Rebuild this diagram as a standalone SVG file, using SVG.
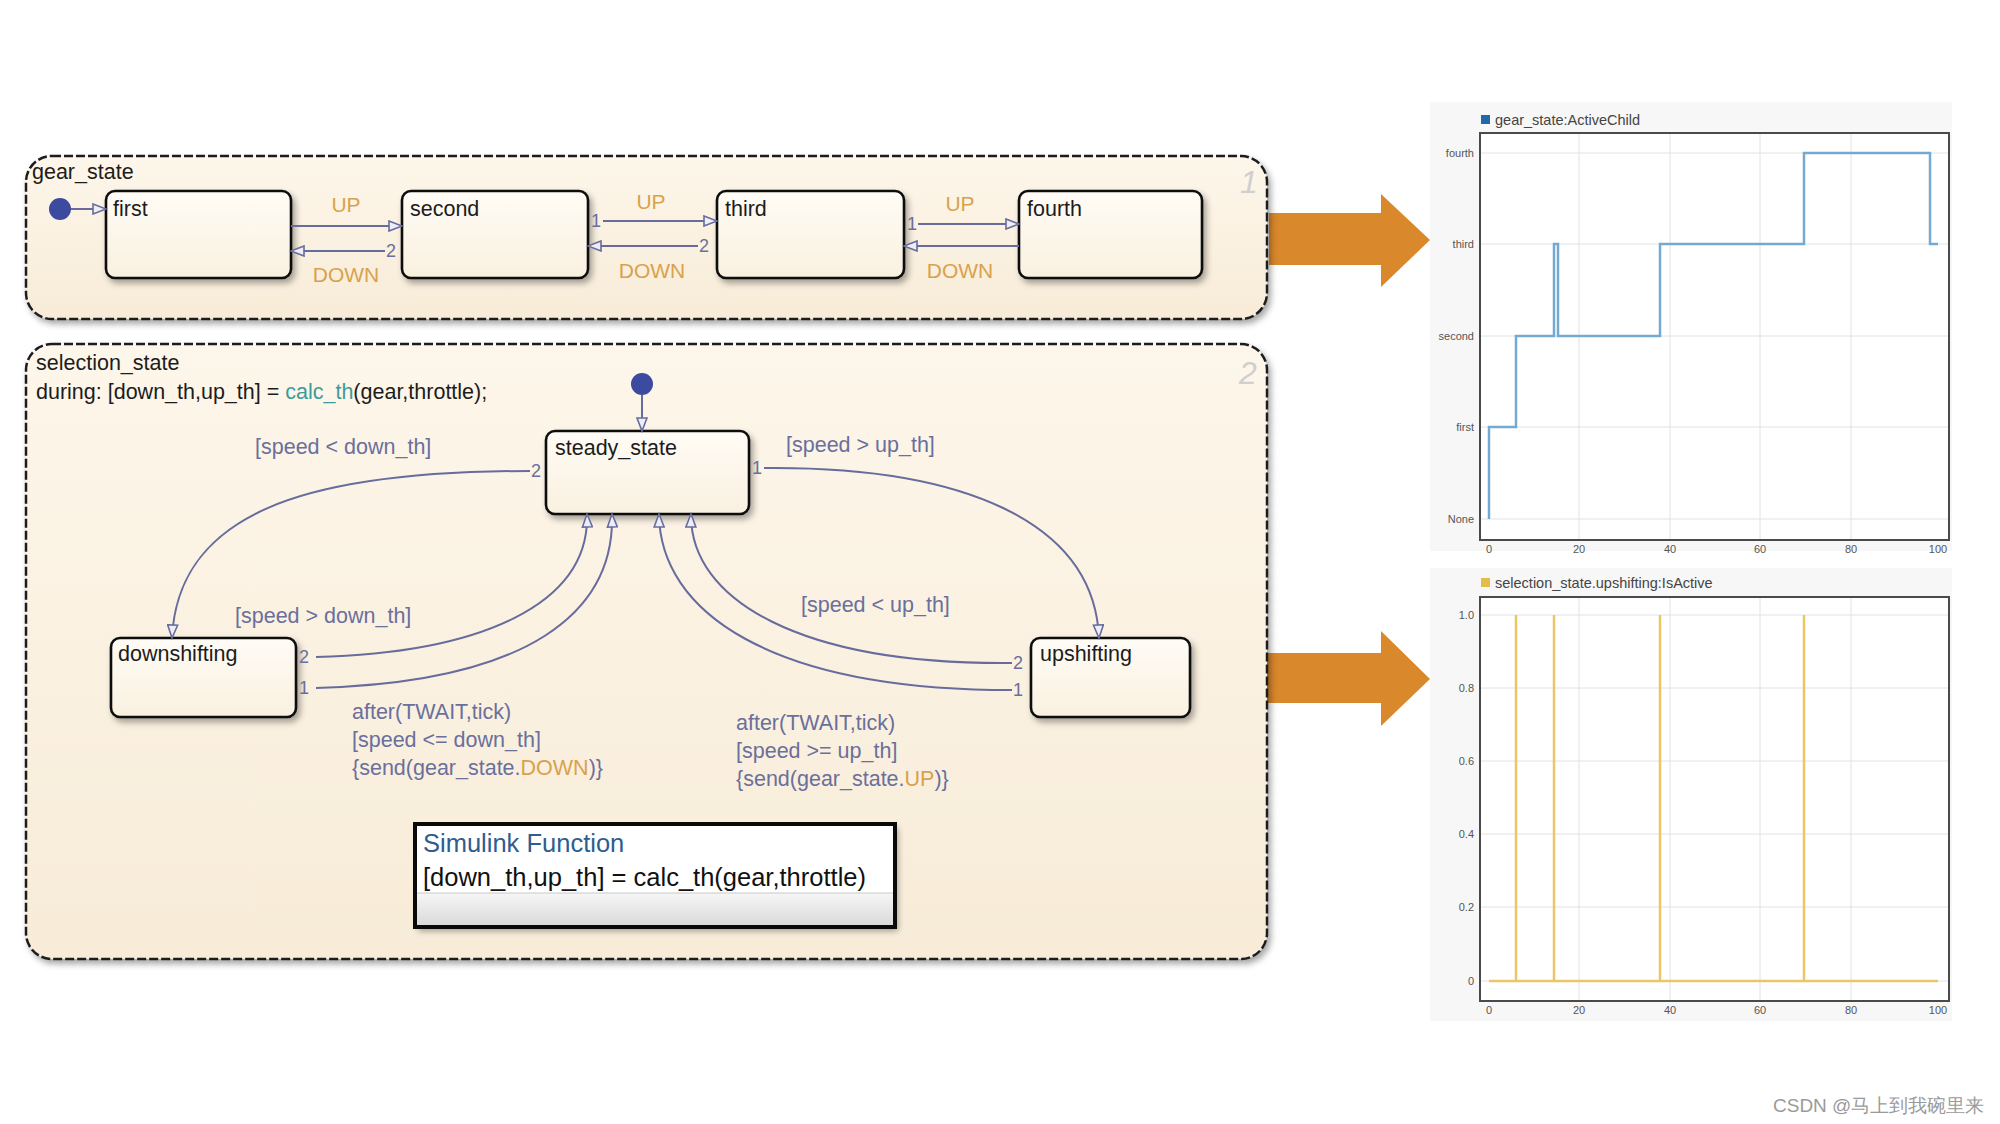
<svg xmlns="http://www.w3.org/2000/svg" width="2000" height="1124" viewBox="0 0 2000 1124">
<defs>
<style>
text{font-family:"Liberation Sans",Arial,sans-serif}
.chart{fill:url(#gChart);stroke:#1e1e1e;stroke-width:2.5;stroke-dasharray:9 3}
.st{fill:url(#gState);stroke:#111;stroke-width:2.6}
.sl{font-size:21.5px;fill:#1c1c1c}
.tr{fill:none;stroke:#676c9c;stroke-width:2}
.tra{fill:none;stroke:#676c9c;stroke-width:2;marker-end:url(#ah)}
.tl{font-size:21.5px;fill:#6a6f9c}
.num{font-size:18px;fill:#6a6f9c}
.ev{font-size:21px;fill:#d8a24c}
.corner{font-size:32px;fill:#cfcfcf;font-style:italic}
.dot{fill:#3c4aa0}
.grid{stroke:#e2e2e2;stroke-width:1}
.tick{font-size:11px;fill:#555}
.axes{fill:#fff;stroke:#4a4a4a;stroke-width:2}
.big{fill:#d9882b}
.leg{font-size:14.5px;fill:#444}
</style>
<linearGradient id="gChart" x1="0" y1="0" x2="0" y2="1">
<stop offset="0" stop-color="#fdf6ea"/>
<stop offset="1" stop-color="#f8ecd8"/>
</linearGradient>
<linearGradient id="gState" x1="0" y1="0" x2="0" y2="1">
<stop offset="0" stop-color="#fffcf6"/>
<stop offset="1" stop-color="#f9f0df"/>
</linearGradient>
<linearGradient id="gFoot" x1="0" y1="0" x2="0" y2="1">
<stop offset="0" stop-color="#f6f6f6"/>
<stop offset="1" stop-color="#dadada"/>
</linearGradient>
<filter id="sh" x="-10%" y="-10%" width="125%" height="130%">
<feDropShadow dx="3" dy="4" stdDeviation="3" flood-color="#000" flood-opacity="0.35"/>
</filter>
<marker id="ah" markerWidth="16" markerHeight="12" refX="14" refY="6" orient="auto" markerUnits="userSpaceOnUse">
<path d="M1,1 L14,6 L1,11 Z" fill="#eeeef8" stroke="#676c9c" stroke-width="1.6"/>
</marker>
</defs>
<rect width="2000" height="1124" fill="#ffffff"/>

<!-- big orange arrows -->
<g id="arrow-top">
<path class="big" d="M1269,213 H1381 V194 L1430,240 L1381,287 V265 H1269 Z"/>
</g>
<g id="arrow-bottom">
<path class="big" d="M1190,653 H1381 V631 L1430,679 L1381,726 V703 H1190 Z"/>
</g>

<!-- gear_state chart -->
<g id="gear_state">
<rect class="chart" x="26" y="156" width="1241" height="163" rx="26" filter="url(#sh)"/>
<text x="32" y="179" class="sl">gear_state</text>
<text x="1240" y="193" class="corner">1</text>
</g>
<g id="gear_init"><circle class="dot" cx="60" cy="209" r="11"/></g>
<g id="first"><rect class="st" x="106" y="191" width="185" height="87" rx="9" filter="url(#sh)"/><text x="113" y="216" class="sl">first</text></g>
<g id="second"><rect class="st" x="402" y="191" width="186" height="87" rx="9" filter="url(#sh)"/><text x="410" y="216" class="sl">second</text></g>
<g id="third"><rect class="st" x="717" y="191" width="187" height="87" rx="9" filter="url(#sh)"/><text x="725" y="216" class="sl">third</text></g>
<g id="fourth"><rect class="st" x="1019" y="191" width="183" height="87" rx="9" filter="url(#sh)"/><text x="1027" y="216" class="sl">fourth</text></g>

<!-- selection_state chart -->
<g id="selection_state">
<rect class="chart" x="26" y="344" width="1241" height="615" rx="26" filter="url(#sh)"/>
<text x="36" y="370" class="sl">selection_state</text>
<text x="36" y="399" class="sl">during: [down_th,up_th] = <tspan fill="#3a9c9c">calc_th</tspan>(gear,throttle);</text>
<text x="1239" y="384" class="corner">2</text>
</g>
<g id="sel_init"><circle class="dot" cx="642" cy="384" r="11"/></g>
<g id="steady_state"><rect class="st" x="546" y="431" width="203" height="83" rx="9" filter="url(#sh)"/><text x="555" y="455" class="sl">steady_state</text></g>
<g id="downshifting"><rect class="st" x="111" y="638" width="185" height="79" rx="9" filter="url(#sh)"/><text x="118" y="661" class="sl">downshifting</text></g>
<g id="upshifting"><rect class="st" x="1031" y="638" width="159" height="79" rx="9" filter="url(#sh)"/><text x="1040" y="661" class="sl">upshifting</text></g>

<g id="simulink_function">
<rect x="415" y="824" width="480" height="103" fill="#ffffff" filter="url(#sh)"/>
<rect x="417" y="893" width="476" height="32" fill="url(#gFoot)"/>
<line x1="417" y1="893" x2="893" y2="893" stroke="#c8c8c8" stroke-width="1"/>
<rect x="415" y="824" width="480" height="103" fill="none" stroke="#0a0a0a" stroke-width="4"/>
<text x="423" y="852" font-size="25.5" fill="#2e5d8e">Simulink Function</text>
<text x="423" y="886" font-size="25.5" fill="#111">[down_th,up_th] = calc_th(gear,throttle)</text>
</g>

<!-- connectors -->
<g id="connectors">
<line class="tra" x1="71" y1="209" x2="106" y2="209"/>
<line class="tra" x1="291" y1="226" x2="402" y2="226"/>
<line class="tra" x1="385" y1="251" x2="291" y2="251"/>
<line class="tra" x1="603" y1="221" x2="717" y2="221"/>
<line class="tra" x1="698" y1="246" x2="588" y2="246"/>
<line class="tra" x1="918" y1="224" x2="1019" y2="224"/>
<line class="tra" x1="1019" y1="246" x2="904" y2="246"/>

<line class="tra" x1="642" y1="395" x2="642" y2="431"/>
<path class="tra" d="M530,471 C300,471 178,515 172,638"/>
<path class="tra" d="M764,468 C960,466 1094,520 1099,638"/>
<path class="tra" d="M316,657 C480,653 590,605 587,514"/>
<path class="tra" d="M316,688 C530,682 615,612 612,514"/>
<path class="tra" d="M1012,663 C800,665 690,600 691,514"/>
<path class="tra" d="M1012,690 C770,690 660,612 659,514"/>
</g>

<!-- transition labels -->
<g id="labels">
<text x="346" y="212" class="ev" text-anchor="middle">UP</text>
<text x="346" y="282" class="ev" text-anchor="middle">DOWN</text>
<text x="651" y="209" class="ev" text-anchor="middle">UP</text>
<text x="652" y="278" class="ev" text-anchor="middle">DOWN</text>
<text x="960" y="211" class="ev" text-anchor="middle">UP</text>
<text x="960" y="278" class="ev" text-anchor="middle">DOWN</text>
<text x="386" y="257" class="num">2</text>
<text x="591" y="227" class="num">1</text>
<text x="699" y="252" class="num">2</text>
<text x="907" y="230" class="num">1</text>

<text x="531" y="477" class="num">2</text>
<text x="752" y="474" class="num">1</text>
<text x="299" y="663" class="num">2</text>
<text x="299" y="694" class="num">1</text>
<text x="1013" y="669" class="num">2</text>
<text x="1013" y="696" class="num">1</text>

<text x="255" y="454" class="tl">[speed &lt; down_th]</text>
<text x="786" y="452" class="tl">[speed &gt; up_th]</text>
<text x="235" y="623" class="tl">[speed &gt; down_th]</text>
<text x="801" y="612" class="tl">[speed &lt; up_th]</text>
<text x="352" y="719" class="tl">after(TWAIT,tick)</text>
<text x="352" y="747" class="tl">[speed &lt;= down_th]</text>
<text x="352" y="775" class="tl">{send(gear_state.<tspan fill="#d8a24c">DOWN</tspan>)}</text>
<text x="736" y="730" class="tl">after(TWAIT,tick)</text>
<text x="736" y="758" class="tl">[speed &gt;= up_th]</text>
<text x="736" y="786" class="tl">{send(gear_state.<tspan fill="#d8a24c">UP</tspan>)}</text>
</g>

<!-- top plot -->
<g id="plot-top">
<rect x="1430" y="102" width="522" height="449" fill="#f7f7f7"/>
<rect x="1481" y="115" width="9" height="9" fill="#1f68aa"/>
<text x="1495" y="125" class="leg">gear_state:ActiveChild</text>
<rect class="axes" x="1480" y="133" width="469" height="407"/>
<g class="grid">
<line x1="1579" y1="134" x2="1579" y2="539"/><line x1="1670" y1="134" x2="1670" y2="539"/><line x1="1760" y1="134" x2="1760" y2="539"/><line x1="1851" y1="134" x2="1851" y2="539"/>
<line x1="1481" y1="153" x2="1948" y2="153"/><line x1="1481" y1="244" x2="1948" y2="244"/><line x1="1481" y1="336" x2="1948" y2="336"/><line x1="1481" y1="427" x2="1948" y2="427"/><line x1="1481" y1="519" x2="1948" y2="519"/>
</g>
<g class="tick" text-anchor="end">
<text x="1474" y="157">fourth</text><text x="1474" y="248">third</text><text x="1474" y="340">second</text><text x="1474" y="431">first</text><text x="1474" y="523">None</text>
</g>
<g class="tick" text-anchor="middle">
<text x="1489" y="553">0</text><text x="1579" y="553">20</text><text x="1670" y="553">40</text><text x="1760" y="553">60</text><text x="1851" y="553">80</text><text x="1938" y="553">100</text>
</g>
<path d="M1489,519 V427 H1516 V336 H1554 V244 H1558 V336 H1660 V244 H1804 V153 H1930 V244 H1938" fill="none" stroke="#74aad2" stroke-width="2.5"/>
</g>

<!-- bottom plot -->
<g id="plot-bottom">
<rect x="1430" y="568" width="522" height="453" fill="#f7f7f7"/>
<rect x="1481" y="578" width="9" height="9" fill="#e3bd4a"/>
<text x="1495" y="588" class="leg">selection_state.upshifting:IsActive</text>
<rect class="axes" x="1480" y="597" width="469" height="404"/>
<g class="grid">
<line x1="1579" y1="598" x2="1579" y2="1000"/><line x1="1670" y1="598" x2="1670" y2="1000"/><line x1="1760" y1="598" x2="1760" y2="1000"/><line x1="1851" y1="598" x2="1851" y2="1000"/>
<line x1="1481" y1="615" x2="1948" y2="615"/><line x1="1481" y1="688" x2="1948" y2="688"/><line x1="1481" y1="761" x2="1948" y2="761"/><line x1="1481" y1="834" x2="1948" y2="834"/><line x1="1481" y1="907" x2="1948" y2="907"/><line x1="1481" y1="981" x2="1948" y2="981"/>
</g>
<g class="tick" text-anchor="end">
<text x="1474" y="619">1.0</text><text x="1474" y="692">0.8</text><text x="1474" y="765">0.6</text><text x="1474" y="838">0.4</text><text x="1474" y="911">0.2</text><text x="1474" y="985">0</text>
</g>
<g class="tick" text-anchor="middle">
<text x="1489" y="1014">0</text><text x="1579" y="1014">20</text><text x="1670" y="1014">40</text><text x="1760" y="1014">60</text><text x="1851" y="1014">80</text><text x="1938" y="1014">100</text>
</g>
<path d="M1489,981 H1516 V615 V981 H1554 V615 V981 H1660 V615 V981 H1804 V615 V981 H1938" fill="none" stroke="#ecc56a" stroke-width="2.5"/>
</g>

<text x="1773" y="1112" font-size="19" fill="#9a9a9a" font-family="'Liberation Sans','Noto Sans CJK SC',sans-serif">CSDN @马上到我碗里来</text>
</svg>
